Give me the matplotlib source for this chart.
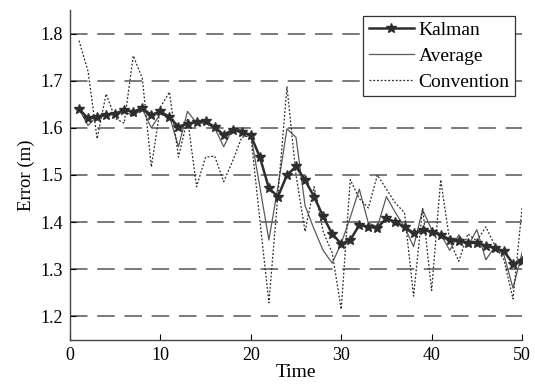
import matplotlib
matplotlib.use("Agg")
import matplotlib.pyplot as plt
import numpy as np

plt.rcParams['font.family'] = ['Liberation Serif', 'DejaVu Serif']

time = list(range(1, 51))
kalman = [1.640, 1.620, 1.623, 1.628, 1.630, 1.638, 1.634, 1.642, 1.627, 1.635,
          1.623, 1.602, 1.609, 1.612, 1.614, 1.602, 1.585, 1.596, 1.591, 1.584,
          1.538, 1.472, 1.454, 1.500, 1.518, 1.489, 1.454, 1.412, 1.375, 1.354,
          1.362, 1.394, 1.390, 1.388, 1.408, 1.400, 1.390, 1.377, 1.383, 1.380,
          1.373, 1.363, 1.359, 1.356, 1.356, 1.350, 1.345, 1.338, 1.312, 1.317]
average = [1.640, 1.605, 1.625, 1.630, 1.630, 1.635, 1.625, 1.640, 1.600, 1.630,
           1.625, 1.560, 1.635, 1.610, 1.610, 1.600, 1.560, 1.598, 1.595, 1.585,
           1.475, 1.362, 1.475, 1.598, 1.580, 1.435, 1.385, 1.340, 1.313, 1.355,
           1.410, 1.470, 1.398, 1.390, 1.454, 1.420, 1.390, 1.348, 1.426, 1.384,
           1.375, 1.340, 1.373, 1.348, 1.384, 1.320, 1.348, 1.330, 1.260, 1.335]
convention = [1.785, 1.720, 1.577, 1.672, 1.620, 1.610, 1.753, 1.705, 1.517, 1.644,
              1.676, 1.538, 1.620, 1.475, 1.538, 1.540, 1.486, 1.530, 1.580, 1.584,
              1.405, 1.229, 1.458, 1.687, 1.500, 1.380, 1.475, 1.380, 1.335, 1.215,
              1.490, 1.450, 1.430, 1.500, 1.470, 1.440, 1.420, 1.243, 1.430, 1.255,
              1.490, 1.360, 1.317, 1.375, 1.360, 1.390, 1.350, 1.320, 1.237, 1.430]
yticks = [1.2, 1.3, 1.4, 1.5, 1.6, 1.7, 1.8]
xticks = [0, 10, 20, 30, 40, 50]

fig = plt.figure(figsize=(5.35, 3.85), dpi=100)
ax = fig.add_axes([0.1308, 0.117, 0.845, 0.857])

for yv in yticks:
    ax.axhline(yv, color='#7a7a7a', lw=1.4, ls=(0, (9, 5)), zorder=0)

ax.plot(time, kalman, color='#2e2e2e', lw=1.8, marker='*', ms=7,
        markeredgewidth=1.0, label='Kalman', zorder=3)
ax.plot(time, average, color='#5a5a5a', lw=0.9, ls='-', label='Average', zorder=2)
ax.plot(time, convention, color='#2a2a2a', lw=0.9, ls=(0, (1.5, 1.5)),
        label='Convention', zorder=2)

ax.set_xlim(0, 50)
ax.set_ylim(1.15, 1.85)
ax.set_xticks(xticks)
ax.set_yticks(yticks)
ax.set_yticklabels([f'{v:.1f}' for v in yticks])
ax.tick_params(direction='in', length=4, labelsize=13, width=0.8, pad=5)
ax.spines['top'].set_visible(False)
ax.spines['right'].set_visible(False)
for s in ['left', 'bottom']:
    ax.spines[s].set_color('#444444')
    ax.spines[s].set_linewidth(1.0)

ax.set_xlabel('Time', fontsize=14, labelpad=0)
ax.set_ylabel('Error (m)', fontsize=13.5, labelpad=4)

leg = ax.legend(loc='upper right', bbox_to_anchor=(0.994, 0.995), fontsize=14,
                frameon=True, fancybox=False, edgecolor='#333333',
                handlelength=2.3, handletextpad=0.25, borderpad=0.3,
                labelspacing=0.42, borderaxespad=0.2)
leg.get_frame().set_linewidth(0.9)
leg.get_frame().set_alpha(1)

fig.savefig('out.png', dpi=100)
